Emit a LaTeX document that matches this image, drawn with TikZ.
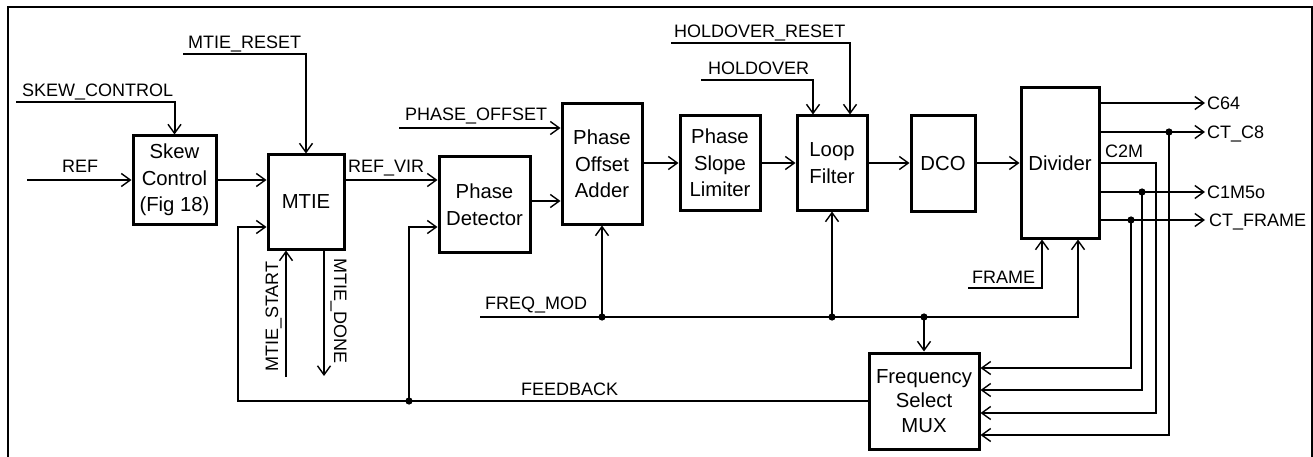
\documentclass[tikz,border=0pt]{standalone}
\usepackage{fontspec}
\setmainfont{Liberation Sans}
\usetikzlibrary{arrows.meta}
\begin{document}
\begin{tikzpicture}[x=1pt,y=-1pt,
  box/.style={draw, line width=3pt, inner sep=0pt, align=center,
    font=\fontsize{20.3}{26.5}\selectfont},
  lbl/.style={inner sep=0pt, anchor=base west, font=\fontsize{18}{20}\selectfont},
  wire/.style={line width=2pt},
  thin wire/.style={line width=1.3pt},
  arr/.style={-{Straight Barb[length=9pt,width=13pt,line width=1.4pt]}},
  dot/.style={fill=black}]
\useasboundingbox (0,0) rectangle (1313,457);
\draw[line width=2.5pt] (8,7) rectangle (1312,480);

% blocks
\node[box, minimum width=83pt, minimum height=88pt] (skew) at (174.5,180) {Skew\\Control\\(Fig 18)};
\node[box, minimum width=76pt, minimum height=94pt] (mtie) at (306,202) {MTIE};
\node[box, minimum width=91pt, minimum height=95pt] (pd) at (484.5,204.5) {Phase\\Detector};
\node[box, minimum width=80pt, minimum height=120pt] (poa) at (602,164) {Phase\\Offset\\Adder};
\node[box, minimum width=80pt, minimum height=94pt] (psl) at (720,163) {Phase\\Slope\\Limiter};
\node[box, minimum width=70pt, minimum height=94pt] (lf) at (832,163) {Loop\\Filter};
\node[box, minimum width=64pt, minimum height=95pt] (dco) at (943,163.5) {DCO};
\node[box, minimum width=78pt, minimum height=150pt] (div) at (1060,163) {Divider};
\node[box, minimum width=110pt, minimum height=96pt, font=\fontsize{20.3}{24.5}\selectfont] (fsm) at (924,401) {Frequency\\Select\\MUX};

% labels
\node[lbl] (tskew) at (22,97) {SKEW\_CONTROL};
\node[lbl] (tref) at (62,173) {REF};
\node[lbl] (treset) at (188,49) {MTIE\_RESET};
\node[lbl] (trefvir) at (348,173) {REF\_VIR};
\node[lbl] (tpo) at (405,121) {PHASE\_OFFSET};
\node[lbl] (thold) at (708,75) {HOLDOVER};
\node[lbl] (thr) at (674,38) {HOLDOVER\_RESET};
\node[lbl] (tc64) at (1207,109.5) {C64};
\node[lbl] (tc8) at (1207,138.5) {CT\_C8};
\node[lbl] (tc2m) at (1105,158) {C2M};
\node[lbl] (tc1m) at (1207,198.5) {C1M5o};
\node[lbl] (tcf) at (1209,226.5) {CT\_FRAME};
\node[lbl] (tframe) at (972,283) {FRAME};
\node[lbl] (tfm) at (485,309) {FREQ\_MOD};
\node[lbl] (tfb) at (521,395) {FEEDBACK};
\node[lbl, rotate=90] (tstart) at (278,372) {MTIE\_START};
\node[lbl, rotate=-90] (tdone) at (334,258) {MTIE\_DONE};

% free ends and junctions
\coordinate (skewin) at (16,102);
\coordinate (refin) at (27,180);
\coordinate (resetin) at (183,54);
\coordinate (poin) at (399,128);
\coordinate (holdin) at (701,80);
\coordinate (hrin) at (671,43);
\coordinate (startin) at (286,377);
\coordinate (doneout) at (324,376);
\coordinate (framein) at (968,288);
\coordinate (fmin) at (480,317);
\coordinate (fbl) at (238,401);
\coordinate (fbdot) at (409,401);
\coordinate (fm1) at (602,317);
\coordinate (fm2) at (832,317);
\coordinate (fm3) at (924,317);
\coordinate (fmend) at (1078,317);
\coordinate (o64) at (1205,103);
\coordinate (o8) at (1205,132);
\coordinate (o15) at (1205,192);
\coordinate (ocf) at (1205,220);
\coordinate (j8) at (1169,132);
\coordinate (j15) at (1142,192);
\coordinate (jcf) at (1131,220);
\coordinate (j2m) at (1156,163);

% connectors
\draw[wire, arr] (skewin) -| (skew.north);
\draw[wire, arr] (refin) -- (skew.west);
\draw[wire, arr] (resetin) -| (mtie.north);
\draw[wire, arr] (skew.east) -- (mtie.west |- skew.east);
\draw[wire, arr] (mtie.east |- skew.east) -- (pd.west |- skew.east);
\draw[wire, arr] (fsm.west) -- (fbl) |- (mtie.west |- 0,227);
\draw[wire, arr] (fbdot) |- (pd.west |- 0,227);
\draw[wire, arr] (startin) -- (mtie.south -| startin);
\draw[wire, arr] (mtie.south -| doneout) -- (doneout);
\draw[wire, arr] (pd.east |- 0,201) -- (poa.west |- 0,201);
\draw[wire, arr] (poin) -- (poa.west |- poin);
\draw[wire, arr] (poa.east |- psl.west) -- (psl.west);
\draw[wire, arr] (psl.east) -- (lf.west);
\draw[wire, arr] (holdin) -| (lf.north -| 813,0);
\draw[wire, arr] (hrin) -| (lf.north -| 850,0);
\draw[wire, arr] (lf.east) -- (dco.west |- lf.east);
\draw[wire, arr] (dco.east |- div.west) -- (div.west);
\draw[wire, arr] (div.east |- o64) -- (o64);
\draw[wire, arr] (div.east |- o8) -- (o8);
\draw[wire, arr] (div.east |- o15) -- (o15);
\draw[wire, arr] (div.east |- ocf) -- (ocf);
\draw[thin wire, arr] (div.east |- j2m) -- (j2m) |- (fsm.east |- 0,413);
\draw[wire, arr] (jcf) |- (fsm.east |- 0,368);
\draw[wire, arr] (j15) |- (fsm.east |- 0,390);
\draw[wire, arr] (j8) |- (fsm.east |- 0,435);
\draw[wire, arr] (framein) -| (div.south -| 1042,0);
\draw[wire, arr] (fmin) -- (fmend) -- (div.south -| fmend);
\draw[wire, arr] (fm1) -- (poa.south);
\draw[wire, arr] (fm2) -- (lf.south);
\draw[wire, arr] (fm3) -- (fsm.north);

% junction dots
\foreach \p in {fbdot,fm1,fm2,fm3,j8,j15,jcf}
  \fill (\p) circle (3.6);
\end{tikzpicture}
\end{document}
